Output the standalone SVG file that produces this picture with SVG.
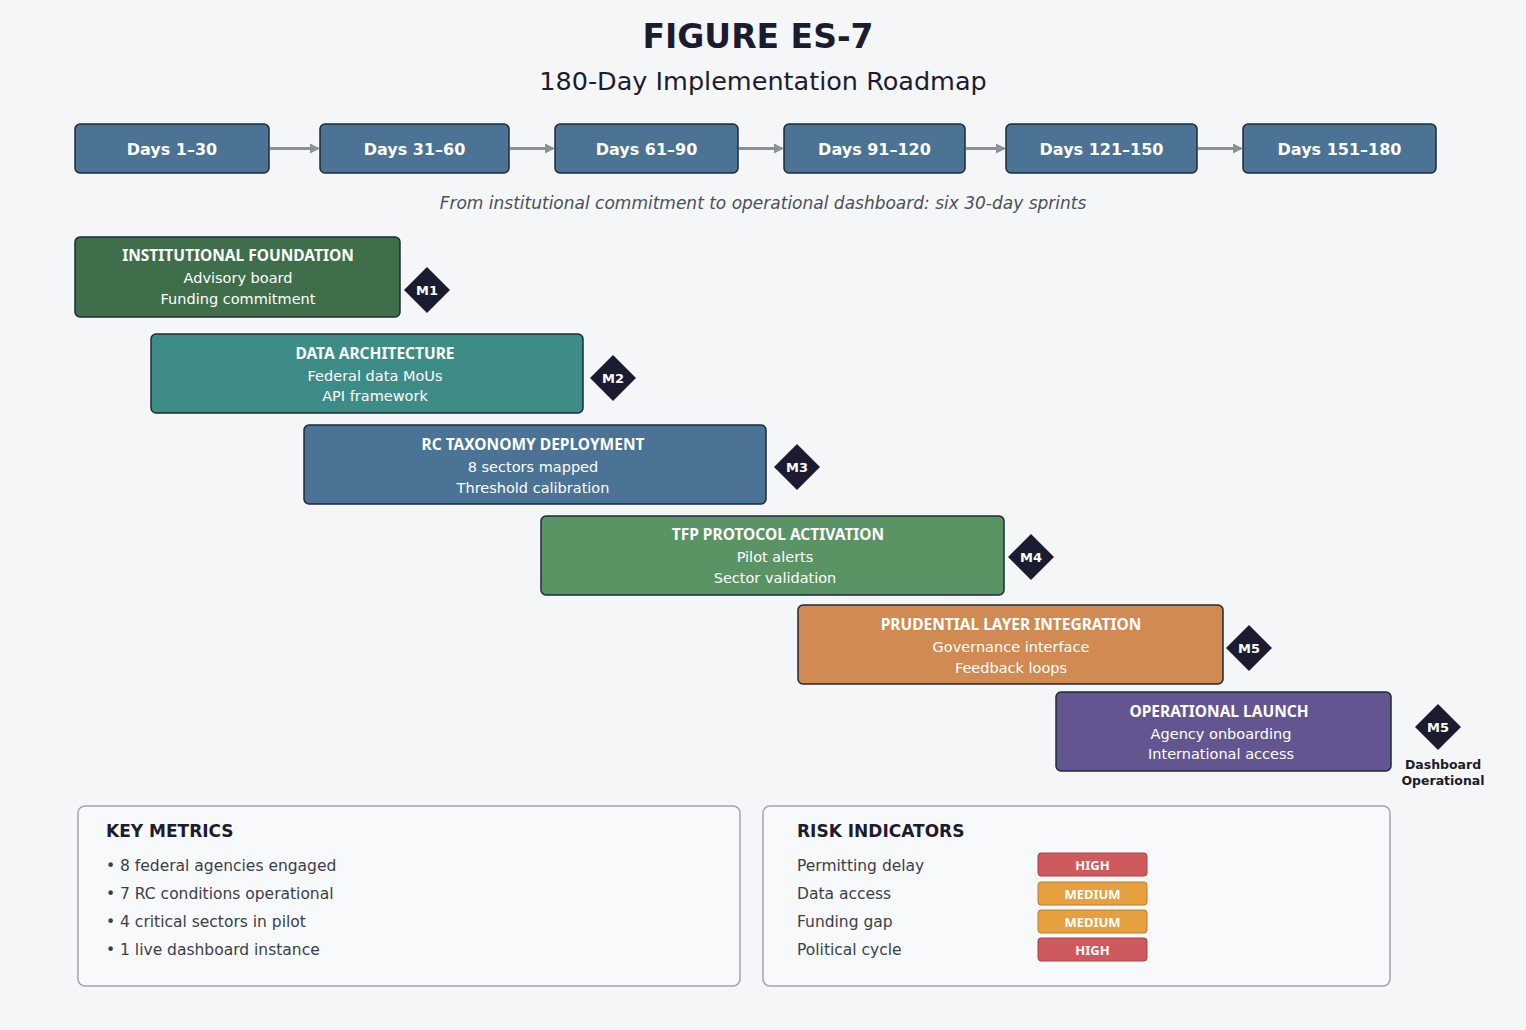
<svg xmlns="http://www.w3.org/2000/svg" width="1526" height="1030" viewBox="0 0 1526 1030">
<defs>
<style>
text{font-family:"DejaVu Sans","Noto Sans",sans-serif;}
.day{fill:#4a7396;stroke:#1e2a38;stroke-width:1.5;}
.dt{fill:#fff;font-size:16px;font-weight:bold;text-anchor:middle;}
.bar{stroke:#1e2a38;stroke-width:1.5;}
.bt{fill:#fff;font-size:15.5px;font-weight:bold;text-anchor:middle;font-family:"Noto Sans","DejaVu Sans",sans-serif;}
.bs{fill:#fff;font-size:14.5px;text-anchor:middle;}
.dia{fill:#1c1c30;}
.mt{fill:#fff;font-size:13px;font-weight:bold;text-anchor:middle;}
.panel{fill:#f8f9fb;stroke:#a0a4aa;stroke-width:1.5;}
.ph{fill:#1c1c30;font-size:17px;font-weight:bold;}
.pt{fill:#3a3f4a;font-size:15.5px;}
.bdt{fill:#fff;font-size:13px;font-weight:bold;text-anchor:middle;font-family:"Noto Sans","DejaVu Sans",sans-serif;}
.conn{stroke:#8a9098;stroke-width:3;fill:none;marker-end:url(#ah);}
</style>
<marker id="ah" markerWidth="10" markerHeight="10" refX="8" refY="5" orient="auto" markerUnits="userSpaceOnUse"><path d="M0,0L10,5L0,10Z" fill="#8a9098"/></marker>
</defs>
<rect width="1526" height="1030" fill="#f5f6f8"/>
<text x="758" y="48" text-anchor="middle" font-size="33" font-weight="bold" fill="#1c1c30">FIGURE ES-7</text>
<text x="763" y="90" text-anchor="middle" font-size="25.5" fill="#1c1c30">180-Day Implementation Roadmap</text>
<g id="connectors">
<line class="conn" x1="270" y1="148.5" x2="318" y2="148.5"/>
<line class="conn" x1="510" y1="148.5" x2="553" y2="148.5"/>
<line class="conn" x1="739" y1="148.5" x2="782" y2="148.5"/>
<line class="conn" x1="966" y1="148.5" x2="1004" y2="148.5"/>
<line class="conn" x1="1198" y1="148.5" x2="1241" y2="148.5"/>
</g>
<g id="d1"><rect class="day" x="75" y="124" width="194" height="49" rx="5"/><text class="dt" x="172" y="155">Days 1–30</text></g>
<g id="d2"><rect class="day" x="320" y="124" width="189" height="49" rx="5"/><text class="dt" x="414.5" y="155">Days 31–60</text></g>
<g id="d3"><rect class="day" x="555" y="124" width="183" height="49" rx="5"/><text class="dt" x="646.5" y="155">Days 61–90</text></g>
<g id="d4"><rect class="day" x="784" y="124" width="181" height="49" rx="5"/><text class="dt" x="874.5" y="155">Days 91–120</text></g>
<g id="d5"><rect class="day" x="1006" y="124" width="191" height="49" rx="5"/><text class="dt" x="1101.5" y="155">Days 121–150</text></g>
<g id="d6"><rect class="day" x="1243" y="124" width="193" height="49" rx="5"/><text class="dt" x="1339.5" y="155">Days 151–180</text></g>
<text x="763" y="209" text-anchor="middle" font-size="17" font-style="italic" fill="#4a4f5a">From institutional commitment to operational dashboard: six 30-day sprints</text>
<g id="b1"><rect class="bar" x="75" y="237" width="325" height="80" rx="5" fill="#3f6e4a"/><text class="bt" x="238" y="261">INSTITUTIONAL FOUNDATION</text><text class="bs" x="238" y="283">Advisory board</text><text class="bs" x="238" y="304">Funding commitment</text></g>
<g id="m1"><path class="dia" d="M427,267L450,290L427,313L404,290Z"/><text class="mt" x="427" y="295">M1</text></g>
<g id="b2"><rect class="bar" x="151" y="334" width="432" height="79" rx="5" fill="#3d8c86"/><text class="bt" x="375" y="359">DATA ARCHITECTURE</text><text class="bs" x="375" y="381">Federal data MoUs</text><text class="bs" x="375" y="401">API framework</text></g>
<g id="m2"><path class="dia" d="M613,355L636,378L613,401L590,378Z"/><text class="mt" x="613" y="383">M2</text></g>
<g id="b3"><rect class="bar" x="304" y="425" width="462" height="79" rx="5" fill="#4a7396"/><text class="bt" x="533" y="450">RC TAXONOMY DEPLOYMENT</text><text class="bs" x="533" y="472">8 sectors mapped</text><text class="bs" x="533" y="493">Threshold calibration</text></g>
<g id="m3"><path class="dia" d="M797,444L820,467L797,490L774,467Z"/><text class="mt" x="797" y="472">M3</text></g>
<g id="b4"><rect class="bar" x="541" y="516" width="463" height="79" rx="5" fill="#5a9465"/><text class="bt" x="778" y="540">TFP PROTOCOL ACTIVATION</text><text class="bs" x="775" y="562">Pilot alerts</text><text class="bs" x="775" y="583">Sector validation</text></g>
<g id="m4"><path class="dia" d="M1031,534L1054,557L1031,580L1008,557Z"/><text class="mt" x="1031" y="562">M4</text></g>
<g id="b5"><rect class="bar" x="798" y="605" width="425" height="79" rx="5" fill="#d08a52"/><text class="bt" x="1011" y="630">PRUDENTIAL LAYER INTEGRATION</text><text class="bs" x="1011" y="652">Governance interface</text><text class="bs" x="1011" y="673">Feedback loops</text></g>
<g id="m5a"><path class="dia" d="M1249,625L1272,648L1249,671L1226,648Z"/><text class="mt" x="1249" y="653">M5</text></g>
<g id="b6"><rect class="bar" x="1056" y="692" width="335" height="79" rx="5" fill="#635690"/><text class="bt" x="1219" y="717">OPERATIONAL LAUNCH</text><text class="bs" x="1221" y="739">Agency onboarding</text><text class="bs" x="1221" y="759">International access</text></g>
<g id="m5b"><path class="dia" d="M1438,704L1461,727L1438,750L1415,727Z"/><text class="mt" x="1438" y="732">M5</text><text x="1443" y="769" font-size="12.5" font-weight="bold" text-anchor="middle" fill="#1c1c30">Dashboard</text><text x="1443" y="785" font-size="12.5" font-weight="bold" text-anchor="middle" fill="#1c1c30">Operational</text></g>
<g id="metrics"><rect class="panel" x="78" y="806" width="662" height="180" rx="7"/><text class="ph" x="106" y="837">KEY METRICS</text>
<text class="pt" x="106" y="871">• 8 federal agencies engaged</text><text class="pt" x="106" y="899">• 7 RC conditions operational</text><text class="pt" x="106" y="927">• 4 critical sectors in pilot</text><text class="pt" x="106" y="955">• 1 live dashboard instance</text></g>
<g id="risks"><rect class="panel" x="763" y="806" width="627" height="180" rx="7"/><text class="ph" x="797" y="837">RISK INDICATORS</text>
<text class="pt" x="797" y="871">Permitting delay</text><text class="pt" x="797" y="899">Data access</text><text class="pt" x="797" y="927">Funding gap</text><text class="pt" x="797" y="955">Political cycle</text>
<rect x="1038" y="853" width="109" height="23" rx="3" fill="#cf5a5e" stroke="#a84448"/><text class="bdt" x="1092.5" y="869.5">HIGH</text>
<rect x="1038" y="882" width="109" height="23" rx="3" fill="#e6a040" stroke="#b87e30"/><text class="bdt" x="1092.5" y="898.5">MEDIUM</text>
<rect x="1038" y="910" width="109" height="23" rx="3" fill="#e6a040" stroke="#b87e30"/><text class="bdt" x="1092.5" y="926.5">MEDIUM</text>
<rect x="1038" y="938" width="109" height="23" rx="3" fill="#cf5a5e" stroke="#a84448"/><text class="bdt" x="1092.5" y="954.5">HIGH</text></g>
</svg>
